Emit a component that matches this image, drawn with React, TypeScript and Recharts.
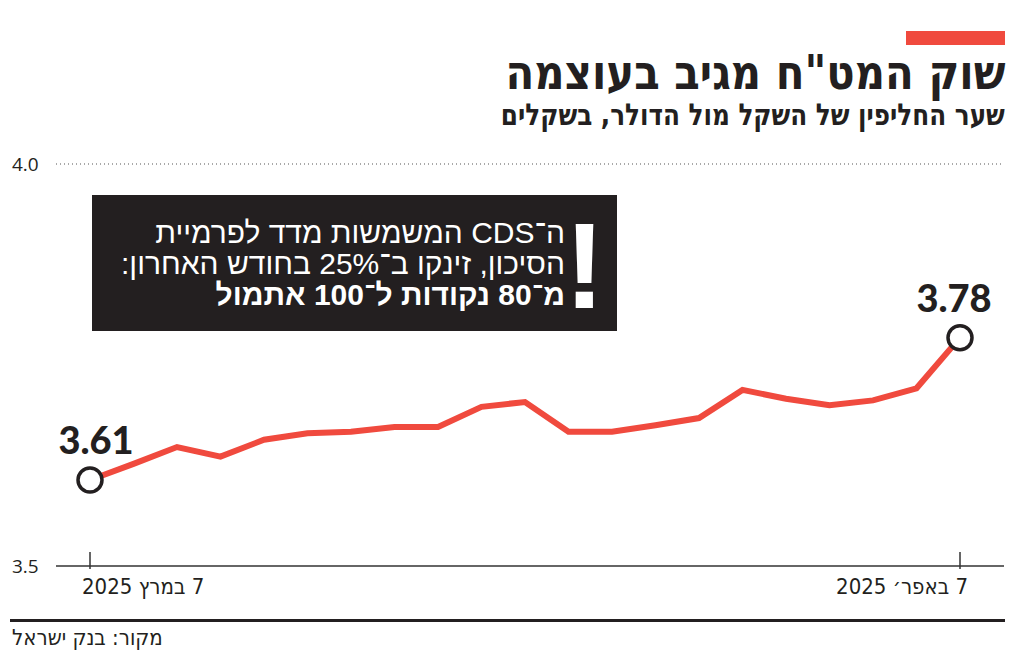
import React from "react";
import { LineChart, Line, XAxis, YAxis, ReferenceLine } from "recharts";

const dates = [
  "7.3.2025", "10.3.2025", "11.3.2025", "12.3.2025", "13.3.2025", "17.3.2025", "18.3.2025",
  "19.3.2025", "20.3.2025", "21.3.2025", "24.3.2025", "25.3.2025", "26.3.2025", "27.3.2025",
  "28.3.2025", "31.3.2025", "1.4.2025", "2.4.2025", "3.4.2025", "4.4.2025", "7.4.2025",
];
const rates = [
  3.607, 3.627, 3.648, 3.636, 3.657, 3.665, 3.667, 3.673, 3.673, 3.698, 3.704,
  3.667, 3.667, 3.675, 3.684, 3.719, 3.708, 3.700, 3.706, 3.721, 3.784,
];
const yTicks = [3.5, 4.0];
const xTickLabels = ["7 במרץ 2025", "7 באפר׳ 2025"];

const title = "שוק המט\"ח מגיב בעוצמה";
const subtitle = "שער החליפין של השקל מול הדולר, בשקלים";
const noteLines = ["ה־CDS המשמשות מדד לפרמיית", "הסיכון, זינקו ב־25% בחודש האחרון:"];
const noteBold = "מ־80 נקודות ל־100 אתמול";
const source = "מקור: בנק ישראל";

const data = dates.map((d, i) => ({ date: d, rate: rates[i] }));

const RED = "#f04a3e";
const INK = "#231f20";
const NARROW = '"Liberation Sans Narrow", "DejaVu Sans Condensed", "Liberation Sans", sans-serif';

const XTick = (props: any) => {
  const { x, y, payload } = props;
  const first = payload.value === dates[0];
  const label = first ? xTickLabels[0] : xTickLabels[1];
  return (
    <g>
      <line x1={x} x2={x} y1={y - 14} y2={y + 3} stroke="#333" strokeWidth={1.5} />
      <text
        x={first ? x - 8 : x + 8}
        y={y + 28}
        textAnchor={first ? "end" : "start"}
        fontFamily={NARROW}
        fontSize={22}
        fill={INK}
        direction="rtl"
      >
        {label}
      </text>
    </g>
  );
};

const YTick = (props: any) => {
  const { y, payload } = props;
  return (
    <text x={12} y={y + 7} textAnchor="start" fontFamily='"Open Sans", sans-serif' fontSize={19} fill={INK}>
      {payload.value.toFixed(1)}
    </text>
  );
};

const renderDot = (props: any) => {
  const { cx, cy, index } = props;
  if (index !== 0 && index !== rates.length - 1) return <g key={`d${index}`} />;
  return <circle key={`d${index}`} cx={cx} cy={cy} r={12} fill="#fff" stroke={INK} strokeWidth={3.5} />;
};

const renderLabel = (props: any) => {
  const { x, y, index, value } = props;
  if (index !== 0 && index !== rates.length - 1) return <g key={`l${index}`} />;
  const dx = index === 0 ? 6 : -6;
  return (
    <text
      key={`l${index}`}
      x={x + dx}
      y={y - 26}
      textAnchor="middle"
      fontFamily='"Lato", sans-serif'
      fontWeight={900}
      fontSize={38}
      fill={INK}
    >
      {Number(value).toFixed(2)}
    </text>
  );
};

export default function App() {
  return (
    <div style={{ position: "absolute", left: 0, top: 0, width: 1024, height: 660, background: "#fff", overflow: "hidden" }}>
      <div style={{ position: "absolute", left: 906, top: 31, width: 99, height: 14, background: RED }} />
      <div
        style={{
          position: "absolute", right: 19, top: 50, direction: "rtl", whiteSpace: "nowrap",
          fontFamily: NARROW, fontWeight: 700, fontSize: 48, lineHeight: "44px", color: INK,
          transform: "scaleX(0.97)", transformOrigin: "right center",
        }}
      >
        {title}
      </div>
      <div
        style={{
          position: "absolute", right: 19, top: 101, direction: "rtl", whiteSpace: "nowrap",
          fontFamily: NARROW, fontWeight: 700, fontSize: 30, lineHeight: "28px", color: INK,
          transform: "scaleX(0.915)", transformOrigin: "right center",
        }}
      >
        {subtitle}
      </div>

      <LineChart width={1024} height={660} data={data} margin={{ top: 164, right: 20, bottom: 54, left: 0 }}>
        <ReferenceLine y={4.0} stroke="#555" strokeWidth={1.2} strokeDasharray="1 3" ifOverflow="extendDomain" />
        <XAxis
          dataKey="date"
          ticks={[dates[0], dates[dates.length - 1]]}
          interval={0}
          tick={<XTick />}
          tickLine={false}
          tickSize={0}
          tickMargin={0}
          height={40}
          padding={{ left: 34, right: 44 }}
          axisLine={{ stroke: "#333", strokeWidth: 1.5 }}
        />
        <YAxis
          domain={[3.5, 4.0]}
          ticks={yTicks}
          width={56}
          axisLine={false}
          tickLine={false}
          tick={<YTick />}
        />
        <Line
          type="linear"
          dataKey="rate"
          stroke={RED}
          strokeWidth={6}
          dot={renderDot}
          activeDot={false}
          label={renderLabel}
          isAnimationActive={false}
        />
      </LineChart>

      <div style={{ position: "absolute", left: 92, top: 195, width: 525, height: 136, background: INK }}>
        <div
          style={{
            position: "absolute", right: 52, top: 22, direction: "rtl", textAlign: "right", whiteSpace: "nowrap",
            fontFamily: '"Liberation Sans", sans-serif', fontSize: 30, lineHeight: "31px", color: "#fff",
          }}
        >
          <div>{noteLines[0]}</div>
          <div>{noteLines[1]}</div>
          <div style={{ fontWeight: 700 }}>{noteBold}</div>
        </div>
        <div
          style={{
            position: "absolute", right: 12, top: 10, fontFamily: '"Liberation Sans", sans-serif', fontWeight: 700,
            fontSize: 122, lineHeight: "122px", color: "#fff",
          }}
        >
          !
        </div>
      </div>

      <div style={{ position: "absolute", left: 10, top: 619, width: 995, height: 3, background: INK }} />
      <div
        style={{
          position: "absolute", left: 12, top: 625, direction: "rtl", whiteSpace: "nowrap",
          fontFamily: NARROW, fontSize: 22, lineHeight: "26px", color: INK,
        }}
      >
        {source}
      </div>
    </div>
  );
}
